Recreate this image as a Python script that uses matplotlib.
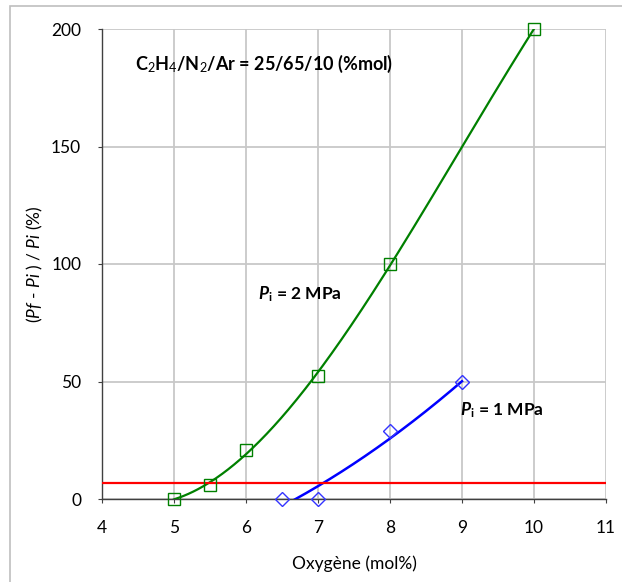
import numpy as np
import matplotlib
matplotlib.use("Agg")
import matplotlib.pyplot as plt
from matplotlib.patches import Rectangle

plt.rcParams['font.family'] = ['Lato', 'DejaVu Sans']
plt.rcParams['mathtext.fontset'] = 'custom'
plt.rcParams['mathtext.rm'] = 'Lato'
plt.rcParams['mathtext.it'] = 'Lato:italic'
plt.rcParams['mathtext.bf'] = 'Lato:bold'
plt.rcParams['mathtext.bfit'] = 'Lato:bold:italic'

# données
x_2mpa = [5, 5.5, 6, 7, 8, 10]
y_2mpa = [0, 6, 21, 52.5, 100, 200]
x_1mpa = [6.5, 7, 8, 9]
y_1mpa = [0, 0, 29, 50]
# courbe de tendance (Pi = 1 MPa)
x_tend_1mpa = [6.67, 7, 7.5, 8, 8.5, 9]
y_tend_1mpa = [0, 5, 15, 26, 37.5, 50]
seuil = 7

fig = plt.figure(figsize=(6.22, 5.82), dpi=100)
ax = fig.add_axes([102 / 622, 1 - 499 / 582, 504 / 622, 470 / 582])

# courbes de tendance polynomiales
c2 = np.polyfit(x_2mpa, y_2mpa, 3)
xs2 = np.linspace(x_2mpa[0], x_2mpa[-1], 300)
ax.plot(xs2, np.polyval(c2, xs2), color="#008000", lw=1.6, zorder=3)
c1 = np.polyfit(x_tend_1mpa, y_tend_1mpa, 2)
xs1 = np.linspace(x_tend_1mpa[0], x_tend_1mpa[-1], 200)
ax.plot(xs1, np.polyval(c1, xs1), color="#0000ff", lw=1.8, zorder=3)

ax.plot(x_2mpa, y_2mpa, ls="none", marker="s", ms=8, mfc="none",
        mec="#008000", mew=1, zorder=4, clip_on=False)
ax.plot(x_1mpa, y_1mpa, ls="none", marker="D", ms=7, mfc="none",
        mec="#3333ff", mew=1, zorder=4, clip_on=False)
ax.axhline(seuil, color="#ff0000", lw=1.6, zorder=3)

ax.set_xlim(4, 11)
ax.set_ylim(0, 200)
ax.set_xticks(range(4, 12))
ax.set_yticks(range(0, 201, 50))
ax.grid(True, color="#c8c8c8", lw=1.3)
ax.set_axisbelow(True)
for s in ["top", "right"]:
    ax.spines[s].set_visible(False)
for s in ["left", "bottom"]:
    ax.spines[s].set_color("#404040")
    ax.spines[s].set_linewidth(1)
ax.tick_params(axis="both", labelsize=12.5, length=3, color="#404040")
ax.tick_params(axis="y", pad=12)
ax.tick_params(axis="x", pad=12)

ax.set_xlabel("Oxygène (mol%)", fontsize=12.5, labelpad=14)
ax.set_ylabel(r"$\text{(}\mathit{Pf}\text{ - }\mathit{Pi}\text{ ) / }\mathit{Pi}\text{ (%)}$",
              fontsize=12.5, labelpad=4)

ax.text(4.46, 185, r"C$_2$H$_4$/N$_2$/Ar = 25/65/10 (%mol)", fontsize=13,
        fontweight="bold", va="center")
ax.text(6.17, 87, r"$\bfit{P}_\mathbf{i}$ = 2 MPa", fontsize=12.5,
        fontweight="bold", va="center")
ax.text(8.97, 38, r"$\bfit{P}_\mathbf{i}$ = 1 MPa", fontsize=12.5,
        fontweight="bold", va="center")

fig.patches.append(Rectangle((0.016, -0.01), 1.2, 1.0, transform=fig.transFigure,
                             fill=False, ec="#bfbfbf", lw=1.2))

fig.savefig("out.png", dpi=100)
